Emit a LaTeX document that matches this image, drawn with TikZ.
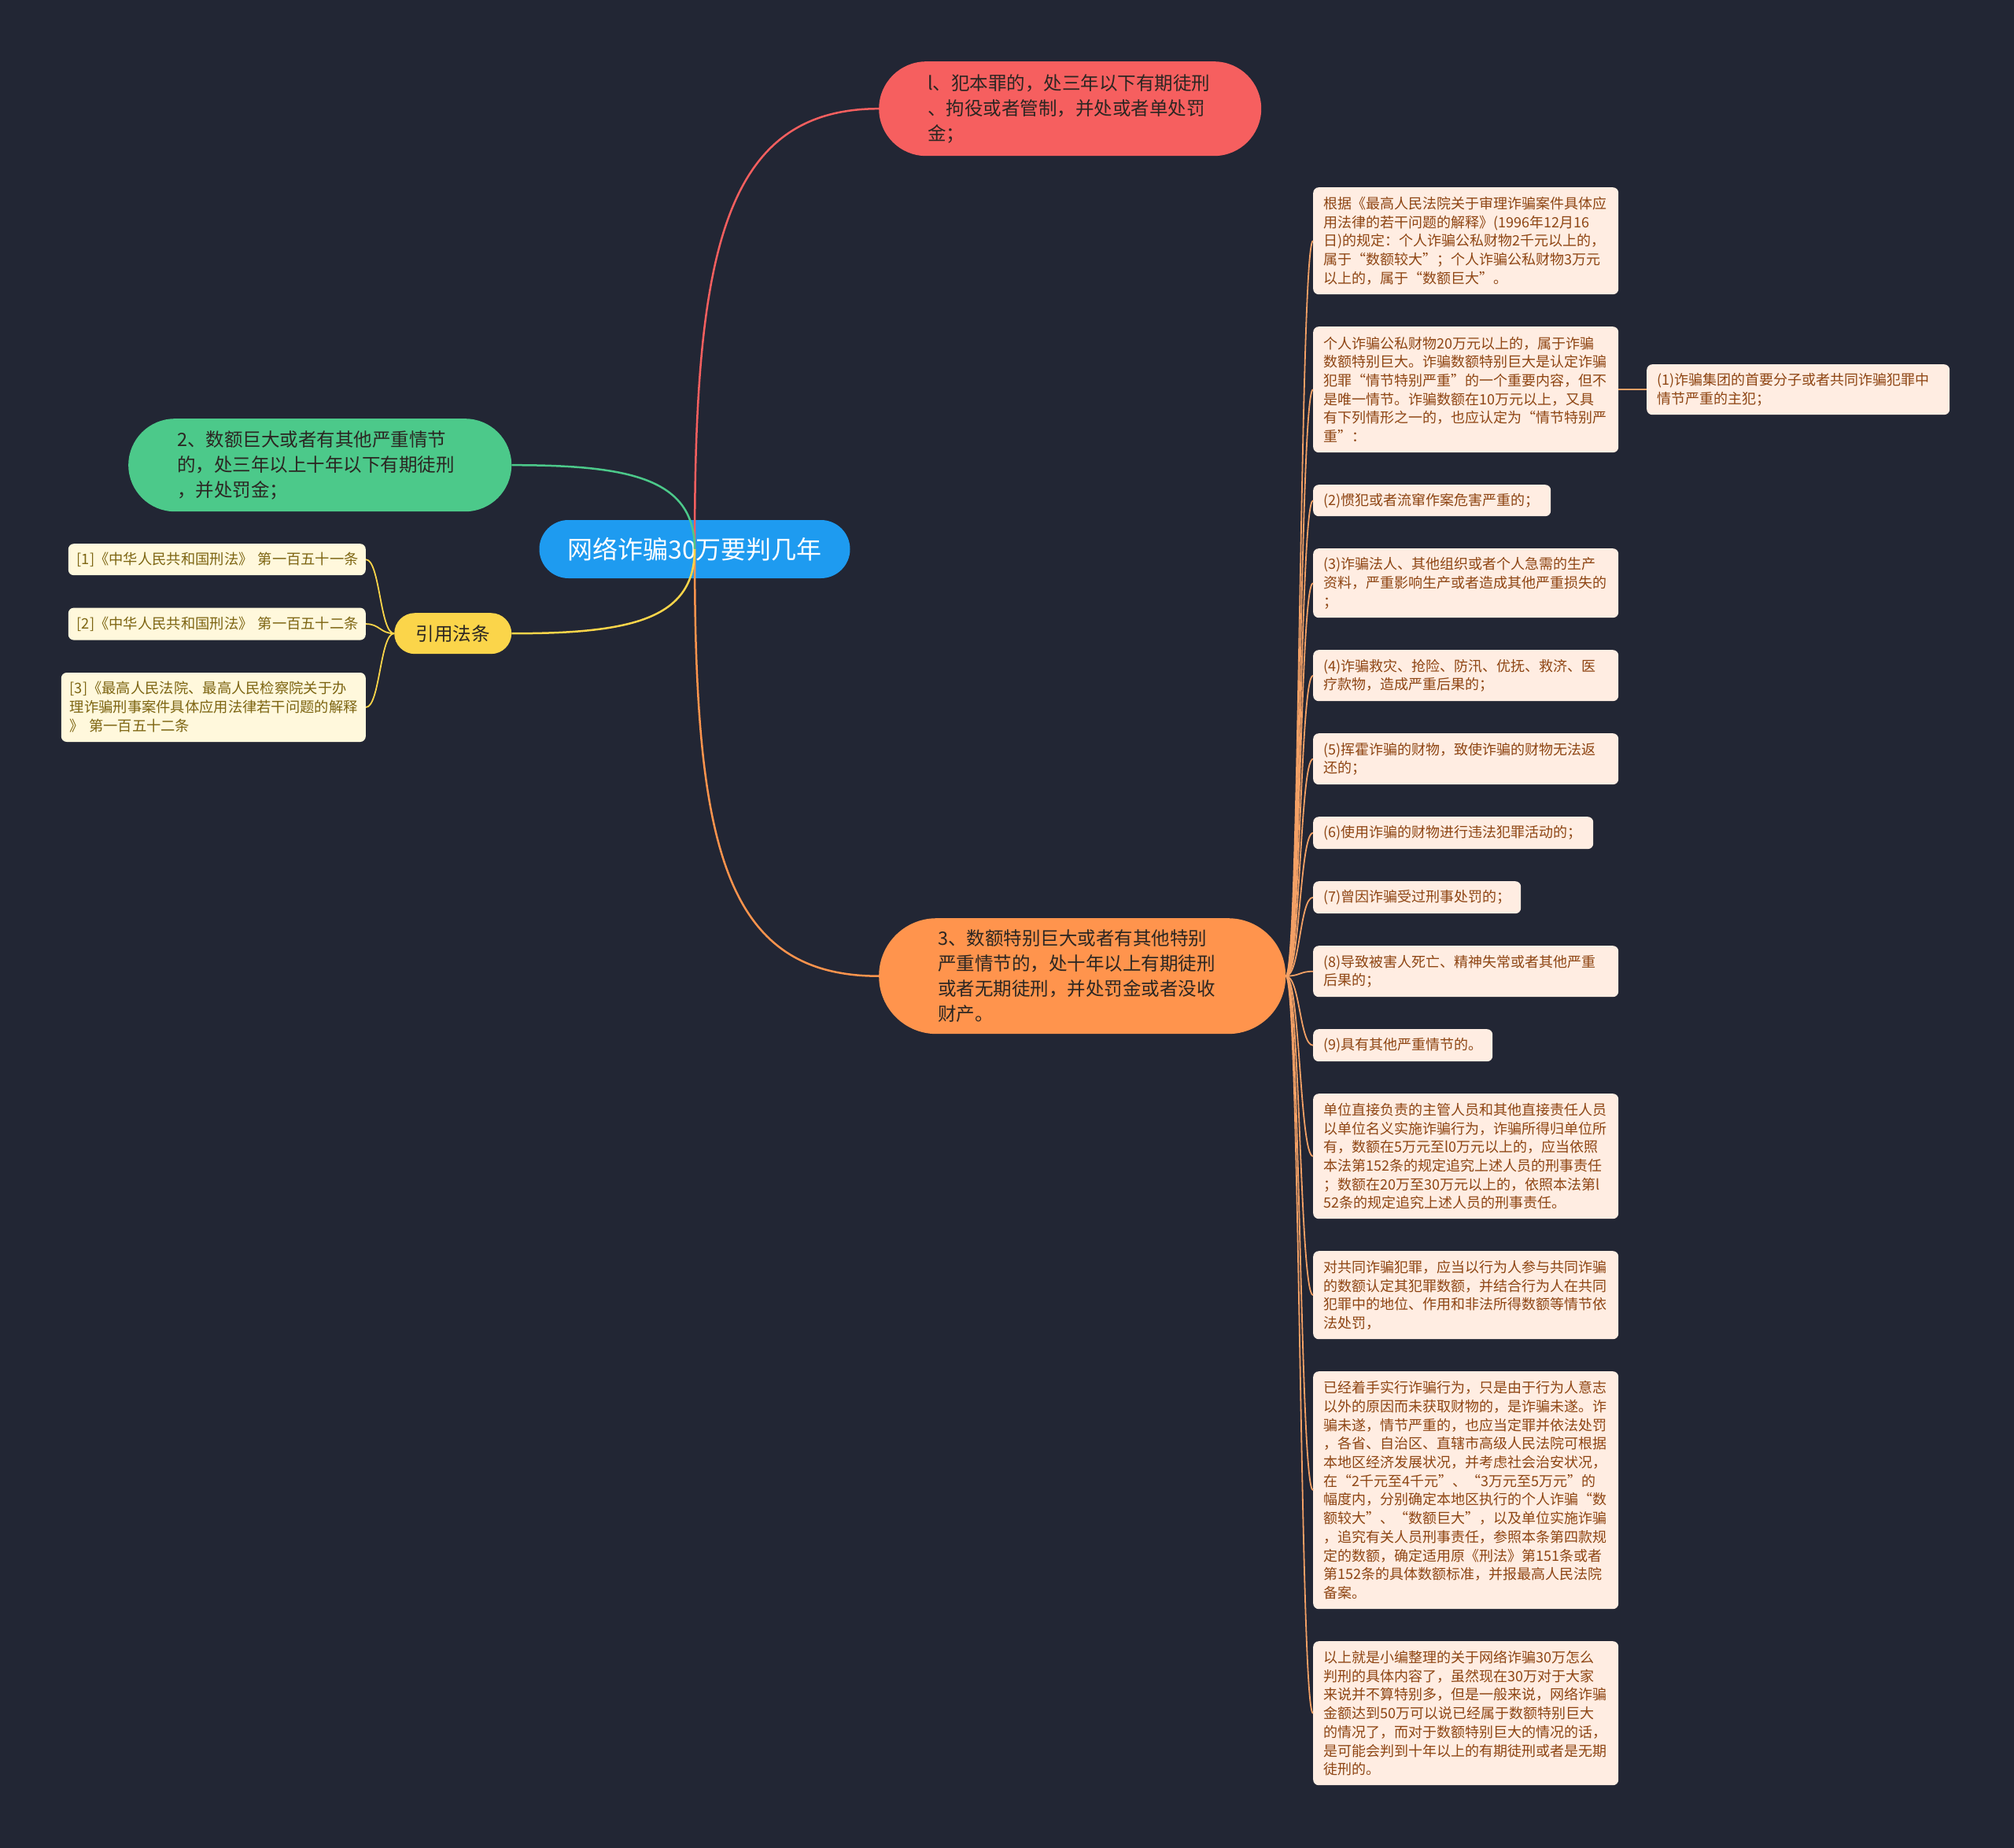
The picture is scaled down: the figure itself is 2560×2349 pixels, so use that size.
\documentclass[tikz,border=0pt]{standalone}
\usepackage{fontspec}
\setmainfont{Noto Sans CJK SC}
\usetikzlibrary{positioning}

\definecolor{bgnavy}{HTML}{222634}
\definecolor{rootblue}{HTML}{1E9BF0}
\definecolor{topred}{HTML}{F65F5F}
\definecolor{topgreen}{HTML}{4CC98A}
\definecolor{toporange}{HTML}{FF944D}
\definecolor{citeyellow}{HTML}{FBD54A}
\definecolor{topictext}{HTML}{2B2622}
\definecolor{leafpeach}{HTML}{FFEDE2}
\definecolor{leafbrown}{HTML}{8E4513}
\definecolor{twigorange}{HTML}{F3A065}
\definecolor{refcream}{HTML}{FFF8DC}
\definecolor{refolive}{HTML}{7D6512}

\begin{document}
\begin{tikzpicture}[
    x=1pt, y=-1pt,
    node distance=40.6pt,
    rootbox/.style={fill=rootblue, text=white, rounded corners=37pt, minimum width=395pt, minimum height=74pt, font=\fontsize{32}{38}\selectfont},
    topic/.style={anchor=north west, text=topictext, align=left, inner ysep=2pt, font=\fontsize{23.5}{32}\selectfont},
    citebox/.style={anchor=north west, fill=citeyellow, text=topictext, rounded corners=26pt, minimum width=149pt, minimum height=52pt, font=\fontsize{23.5}{28}\selectfont},
    refbox/.style={anchor=north east, fill=refcream, text=refolive, rounded corners=7pt, align=left, inner xsep=11pt, inner ysep=2pt, font=\fontsize{18.3}{24}\selectfont},
    leaf/.style={anchor=north west, fill=leafpeach, text=leafbrown, rounded corners=7pt, align=left, text width=362pt, inner xsep=13pt, inner ysep=2pt, font=\fontsize{18}{23.7}\selectfont},
    stackbelow/.style={below=of #1.south west, anchor=north west},
    refbelow/.style={below=41pt of #1.south east, anchor=north east},
    link/.style={line width=2.5pt},
    twig/.style={draw=twigorange, line width=1.8pt}
]
    \useasboundingbox[fill=bgnavy] (0,0) rectangle (2560,2349);

    % --- CENTRE AND MAIN BRANCHES ---
    \node[rootbox] (root) at (883,698) {网络诈骗30万要判几年};

    \node[topic, fill=topred, rounded corners=60pt, inner xsep=62pt, text width=362pt, minimum height=120pt] (pen1) at (1117,78)
        {l、犯本罪的，处三年以下有期徒刑\\、拘役或者管制，并处或者单处罚\\金；};
    \node[topic, fill=topgreen, rounded corners=59pt, inner xsep=62pt, text width=363pt, minimum height=118pt] (pen2) at (163,532)
        {2、数额巨大或者有其他严重情节\\的，处三年以上十年以下有期徒刑\\，并处罚金；};
    \node[topic, fill=toporange, rounded corners=73pt, inner xsep=75pt, text width=367pt, minimum height=147pt] (pen3) at (1117,1167)
        {3、数额特别巨大或者有其他特别\\严重情节的，处十年以上有期徒刑\\或者无期徒刑，并处罚金或者没收\\财产。};
    \node[citebox] (cite) at (501,779) {引用法条};

    % --- CITED ARTICLES ---
    \node[refbox, text width=356pt, minimum height=40pt] (ref1) at (465,691) {[1]《中华人民共和国刑法》~第一百五十一条};
    \node[refbox, refbelow=ref1, text width=356pt, minimum height=41pt] (ref2) {[2]《中华人民共和国刑法》~第一百五十二条};
    \node[refbox, refbelow=ref2, text width=365pt, minimum height=88pt] (ref3)
        {[3]《最高人民法院、最高人民检察院关于办\\理诈骗刑事案件具体应用法律若干问题的解释\\》~第一百五十二条};

    % --- DETAILS OF BRANCH 3 ---
    \node[leaf, minimum height=136pt] (det1) at (1669,238)
        {根据《最高人民法院关于审理诈骗案件具体应\\用法律的若干问题的解释》(1996年12月16\\日)的规定：个人诈骗公私财物2千元以上的，\\属于“数额较大”；个人诈骗公私财物3万元\\以上的，属于“数额巨大”。};
    \node[leaf, stackbelow=det1, minimum height=160pt] (det2)
        {个人诈骗公私财物20万元以上的，属于诈骗\\数额特别巨大。诈骗数额特别巨大是认定诈骗\\犯罪“情节特别严重”的一个重要内容，但不\\是唯一情节。诈骗数额在10万元以上，又具\\有下列情形之一的，也应认定为“情节特别严\\重”：};
    \node[leaf, text width=359pt, minimum height=64pt] (case1) at (2093,463)
        {(1)诈骗集团的首要分子或者共同诈骗犯罪中\\情节严重的主犯；};
    \node[leaf, stackbelow=det2, text width=276pt, minimum height=40pt] (case2) {(2)惯犯或者流窜作案危害严重的；};
    \node[leaf, stackbelow=case2, minimum height=88pt] (case3)
        {(3)诈骗法人、其他组织或者个人急需的生产\\资料，严重影响生产或者造成其他严重损失的\\；};
    \node[leaf, stackbelow=case3, minimum height=65pt] (case4)
        {(4)诈骗救灾、抢险、防汛、优抚、救济、医\\疗款物，造成严重后果的；};
    \node[leaf, stackbelow=case4, minimum height=65pt] (case5)
        {(5)挥霍诈骗的财物，致使诈骗的财物无法返\\还的；};
    \node[leaf, stackbelow=case5, text width=330pt, minimum height=41pt] (case6) {(6)使用诈骗的财物进行违法犯罪活动的；};
    \node[leaf, stackbelow=case6, text width=238pt, minimum height=41pt] (case7) {(7)曾因诈骗受过刑事处罚的；};
    \node[leaf, stackbelow=case7, minimum height=65pt] (case8)
        {(8)导致被害人死亡、精神失常或者其他严重\\后果的；};
    \node[leaf, stackbelow=case8, text width=202pt, minimum height=41pt] (case9) {(9)具有其他严重情节的。};
    \node[leaf, stackbelow=case9, minimum height=159pt] (det3)
        {单位直接负责的主管人员和其他直接责任人员\\以单位名义实施诈骗行为，诈骗所得归单位所\\有，数额在5万元至l0万元以上的，应当依照\\本法第152条的规定追究上述人员的刑事责任\\；数额在20万至30万元以上的，依照本法第l\\52条的规定追究上述人员的刑事责任。};
    \node[leaf, stackbelow=det3, minimum height=112pt] (det4)
        {对共同诈骗犯罪，应当以行为人参与共同诈骗\\的数额认定其犯罪数额，并结合行为人在共同\\犯罪中的地位、作用和非法所得数额等情节依\\法处罚，};
    \node[leaf, stackbelow=det4, minimum height=302pt] (det5)
        {已经着手实行诈骗行为，只是由于行为人意志\\以外的原因而未获取财物的，是诈骗未遂。诈\\骗未遂，情节严重的，也应当定罪并依法处罚\\，各省、自治区、直辖市高级人民法院可根据\\本地区经济发展状况，并考虑社会治安状况，\\在“2千元至4千元”、“3万元至5万元”的\\幅度内，分别确定本地区执行的个人诈骗“数\\额较大”、“数额巨大”，以及单位实施诈骗\\，追究有关人员刑事责任，参照本条第四款规\\定的数额，确定适用原《刑法》第151条或者\\第152条的具体数额标准，并报最高人民法院\\备案。};
    \node[leaf, stackbelow=det5, minimum height=183pt] (det6)
        {以上就是小编整理的关于网络诈骗30万怎么\\判刑的具体内容了，虽然现在30万对于大家\\来说并不算特别多，但是一般来说，网络诈骗\\金额达到50万可以说已经属于数额特别巨大\\的情况了，而对于数额特别巨大的情况的话，\\是可能会判到十年以上的有期徒刑或者是无期\\徒刑的。};

    % --- BRANCH LINES ---
    \draw[link, topred] (root.center) .. controls +(0,-370) and +(-200,0) .. (pen1.west);
    \draw[link, toporange] (root.center) .. controls +(0,370) and +(-200,0) .. (pen3.west);
    \draw[link, topgreen] (root.center) .. controls +(0,-90) and +(150,0) .. (pen2.east);
    \draw[link, citeyellow] (root.center) .. controls +(0,90) and +(150,0) .. (cite.east);

    \foreach \art in {ref1,ref2,ref3}
        \draw[link, line width=1.8pt, citeyellow] (cite.west) .. controls +(-18,0) and +(18,0) .. (\art.east);

    \foreach \item in {det1,det2,case2,case3,case4,case5,case6,case7,case8,case9,det3,det4,det5,det6}
        \draw[twig] (pen3.east) .. controls +(18,0) and +(-17,0) .. (\item.west);
    \draw[twig] (det2.east) -- (case1.west);

\end{tikzpicture}
\end{document}
